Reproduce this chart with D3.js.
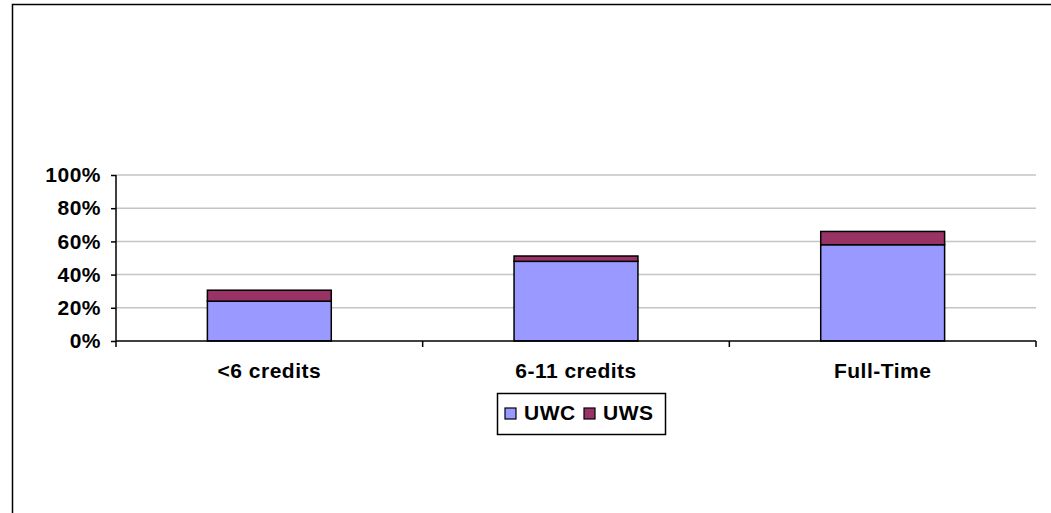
<!DOCTYPE html>
<html>
<head>
<meta charset="utf-8">
<script src="https://cdn.jsdelivr.net/npm/d3@7"></script>
<style>
  body { margin: 0; background: #fff; }
  text { font-family: Arial, "Liberation Sans", sans-serif; font-weight: bold; font-size: 21px; letter-spacing: 0.5px; fill: #000; }
</style>
</head>
<body>
<div id="chart"></div>
<script>
// Chart data
const categories = ["<6 credits", "6-11 credits", "Full-Time"];
const uwc = [24, 48, 58];
const uws = [6.6, 3.2, 8];
const seriesNames = ["UWC", "UWS"];
const seriesColors = ["#9999FF", "#993366"];
const yTicks = [0, 20, 40, 60, 80, 100];

const width = 1051, height = 513;

const svg = d3.select("#chart").append("svg")
    .attr("width", width)
    .attr("height", height);

// outer chart border (only left/top visible in the picture)
svg.append("rect")
    .attr("x", 12.5).attr("y", 4.5)
    .attr("width", 1200).attr("height", 700)
    .attr("fill", "none")
    .attr("stroke", "#000")
    .attr("stroke-width", 1.5);

const x = d3.scaleBand().domain(categories).range([116, 1036]).padding(0);
const y = d3.scaleLinear().domain([0, 100]).range([341, 175]);

// gridlines
svg.append("g")
    .selectAll("line")
    .data(yTicks.filter(d => d > 0))
    .enter().append("line")
    .attr("x1", 116).attr("x2", 1036)
    .attr("y1", d => y(d)).attr("y2", d => y(d))
    .attr("stroke", "#c4c4c4")
    .attr("stroke-width", 1.5);

// stack the data
const rows = categories.map((c, i) => ({ cat: c, UWC: uwc[i], UWS: uws[i] }));
const stacked = d3.stack().keys(seriesNames)(rows);
const color = d3.scaleOrdinal().domain(seriesNames).range(seriesColors);

const barW = x.bandwidth() * 0.404;

svg.append("g")
    .selectAll("g")
    .data(stacked)
    .enter().append("g")
    .attr("fill", d => color(d.key))
    .selectAll("rect")
    .data(d => d)
    .enter().append("rect")
    .attr("x", d => x(d.data.cat) + (x.bandwidth() - barW) / 2)
    .attr("width", barW)
    .attr("y", d => y(d[1]))
    .attr("height", d => y(d[0]) - y(d[1]))
    .attr("stroke", "#000")
    .attr("stroke-width", 1.5);

// y axis
const yAxis = svg.append("g")
    .attr("transform", "translate(116,0)")
    .call(d3.axisLeft(y).tickValues(yTicks).tickFormat(d => d + "%").tickSize(5).tickPadding(10));
yAxis.select(".domain").attr("stroke-width", 1.5).attr("d", `M-0,${y(100)}V${y(0)}`);
yAxis.selectAll(".tick line").attr("stroke-width", 1.5);
yAxis.selectAll("text")
    .style("font-family", "Arial, 'Liberation Sans', sans-serif")
    .style("font-size", "21px")
    .style("font-weight", "bold");

// x axis with ticks at category boundaries
const xAxis = svg.append("g")
    .attr("transform", `translate(0,${y(0)})`);
xAxis.append("line")
    .attr("x1", 116).attr("x2", 1036)
    .attr("stroke", "#000").attr("stroke-width", 1.5);
const bounds = categories.map(c => x(c)).concat([x.range()[1]]);
xAxis.selectAll("line.tk")
    .data(bounds)
    .enter().append("line")
    .attr("class", "tk")
    .attr("x1", d => d).attr("x2", d => d)
    .attr("y1", 0).attr("y2", 6)
    .attr("stroke", "#000").attr("stroke-width", 1.5);
xAxis.selectAll("text")
    .data(categories)
    .enter().append("text")
    .attr("x", d => x(d) + x.bandwidth() / 2)
    .attr("y", 37)
    .attr("text-anchor", "middle")
    .text(d => d);

// legend
const legend = svg.append("g").attr("transform", "translate(497,393)");
legend.append("rect")
    .attr("x", 0.5).attr("y", 0.5)
    .attr("width", 168).attr("height", 41)
    .attr("fill", "#fff")
    .attr("stroke", "#000")
    .attr("stroke-width", 1.5);
const item = legend.selectAll("g.item")
    .data(seriesNames)
    .enter().append("g")
    .attr("class", "item")
    .attr("transform", (d, i) => `translate(${8 + i * 79},0)`);
item.append("rect")
    .attr("x", 0).attr("y", 15)
    .attr("width", 11).attr("height", 11)
    .attr("fill", d => color(d))
    .attr("stroke", "#000")
    .attr("stroke-width", 1.2);
item.append("text")
    .attr("x", 19)
    .attr("y", 27)
    .text(d => d);
</script>
</body>
</html>
